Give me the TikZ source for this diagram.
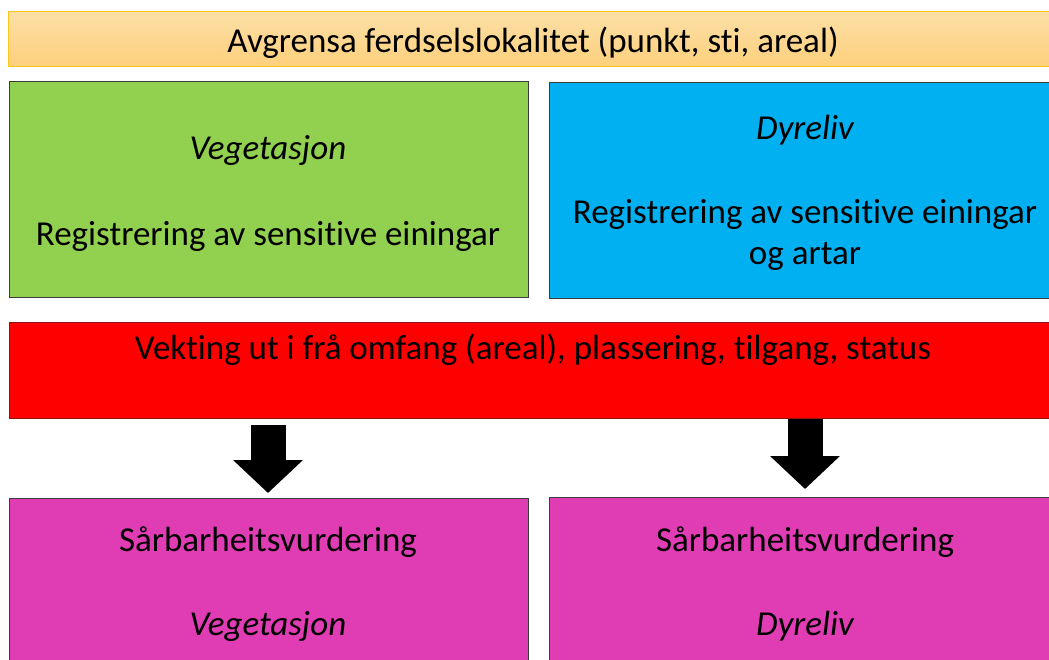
\documentclass[tikz,border=0pt]{standalone}
\usepackage{fontspec}
\setmainfont{Carlito}[Ligatures=NoCommon]
\usetikzlibrary{arrows.meta}
\definecolor{toppljos}{HTML}{FCDFA6}
\definecolor{toppmork}{HTML}{FDD07C}
\definecolor{toppkant}{HTML}{FFC71A}
\definecolor{veggron}{HTML}{92D050}
\definecolor{dyrblaa}{HTML}{00B0F0}
\definecolor{vektraud}{HTML}{FF0000}
\definecolor{raudkant}{HTML}{8E1414}
\definecolor{sarrosa}{HTML}{E03CB4}
\definecolor{boksgraa}{HTML}{3C3C3C}

\begin{document}
\begin{tikzpicture}[x=1pt, y=-1pt,
boks/.style={draw=boksgraa, line width=1pt, anchor=north west, inner sep=0pt, minimum width=519pt},
tekst/.style={anchor=base, font=\fontsize{35}{41}\selectfont},
kursiv/.style={tekst, font=\fontsize{35}{41}\selectfont\itshape},
pil/.style={line width=35pt, -{Triangle[width=68pt,length=33pt]}}]
\useasboundingbox (0,0) rectangle (1049,659);

% boksar
\node[boks, draw=toppkant, top color=toppljos, bottom color=toppmork, minimum width=1052pt, minimum height=55pt] (avgrensing) at (8,11) {};
\node[boks, fill=veggron, minimum height=216pt] (vegetasjon) at (9,81) {};
\node[boks, fill=dyrblaa, minimum width=512pt, minimum height=216pt] (dyreliv) at (549,82) {};
\node[boks, draw=raudkant, fill=vektraud, minimum width=1052pt, minimum height=96pt] (vekting) at (9,322) {};
\node[boks, fill=sarrosa, minimum height=170pt] (vegsaarbar) at (9,498) {};
\node[boks, fill=sarrosa, minimum width=512pt, minimum height=170pt] (dyrsaarbar) at (549,497) {};

% tekst
\node[tekst] (avgrtekst) at (533,52) {Avgrensa ferdselslokalitet (punkt, sti, areal)};
\node[kursiv] (vegtittel) at (268,159) {Vegetasjon};
\node[tekst] (vegreg) at (268,245) {Registrering av sensitive einingar};
\node[kursiv] (dyrtittel) at (805,139) {Dyreliv};
\node[tekst] (dyrreg) at (805,223) {Registrering av sensitive einingar};
\node[tekst] (dyrartar) at (805,264) {og artar};
\node[tekst] (vekttekst) at (533,359) {Vekting ut i frå omfang (areal), plassering, tilgang, status};
\node[tekst] (vegsaartekst) at (268,551) {Sårbarheitsvurdering};
\node[kursiv] (vegsaartittel) at (268,635) {Vegetasjon};
\node[tekst] (dyrsaartekst) at (805,551) {Sårbarheitsvurdering};
\node[kursiv] (dyrsaartittel) at (805,635) {Dyreliv};

% piler
\coordinate (pilvegstart) at (268,425);
\coordinate (pilvegslutt) at (268,493);
\coordinate (pildyrslutt) at (805,489);
\draw[pil] (pilvegstart) -- (pilvegslutt);
\draw[pil] (vekting.south -| pildyrslutt) -- (pildyrslutt);
\end{tikzpicture}
\end{document}
